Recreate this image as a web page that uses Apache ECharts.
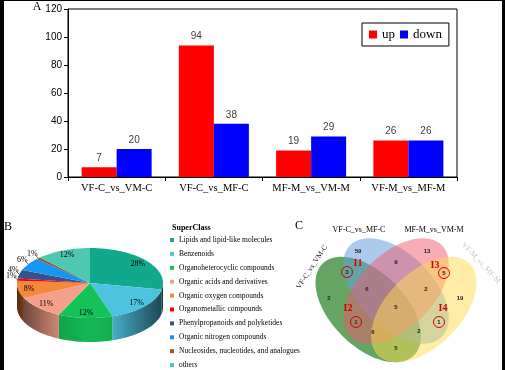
<!DOCTYPE html>
<html><head><meta charset="utf-8">
<script src="https://cdn.jsdelivr.net/npm/echarts@6/dist/echarts.min.js"></script>
<style>html,body{margin:0;padding:0;background:#fff}#c{width:505px;height:370px}</style>
</head><body><div id="c"></div>
<script>
// ---------------- DATA ----------------
const comparisons = ['VF-C_vs_VM-C', 'VF-C_vs_MF-C', 'MF-M_vs_VM-M', 'VF-M_vs_MF-M'];
const upValues = [7, 94, 19, 26];
const downValues = [20, 38, 29, 26];
const yTicks = [0, 20, 40, 60, 80, 100, 120];

const superClasses = [
  'Lipids and lipid-like molecules',
  'Benzenoids',
  'Organoheterocyclic compounds',
  'Organic acids and derivatives',
  'Organic oxygen compounds',
  'Organometallic compounds',
  'Phenylpropanoids and polyketides',
  'Organic nitrogen compounds',
  'Nucleosides, nucleotides, and analogues',
  'others'
];
const superClassPercent = [28, 17, 12, 11, 8, 1, 4, 6, 1, 12];

const vennSets = ['VF-C_vs_VM-C', 'VF-C_vs_MF-C', 'MF-M_vs_VM-M', 'VF-M_vs_MF-M'];
const vennRegions = ['G', 'B', 'P', 'Y', 'GB', 'BP', 'GBP', 'BPY', 'GBPY', 'GP', 'PY', 'BY', 'GPY', 'GBY', 'GY'];
const vennRegionCounts = [2, 59, 13, 19, 3, 9, 6, 2, 5, 1, 5, 1, 6, 2, 5];
const highlightRegions = ['GB', 'GP', 'PY', 'BY'];
const highlightNames = ['I1', 'I2', 'I3', 'I4'];

// ---------------- STYLE / LAYOUT ----------------
const SERIF = '"Liberation Serif", "DejaVu Serif", serif';
const SANS = '"Liberation Sans", Arial, sans-serif';
const superClassColors = ['#12a88c', '#4ec3df', '#14c25a', '#f5a08a', '#f5883a', '#ff0000', '#3b4f8c', '#1597f0', '#8a5c3c', '#4fc8b2'];
const vennColors = ['rgba(40,130,40,0.72)', 'rgba(100,160,220,0.55)', 'rgba(240,90,110,0.5)', 'rgba(255,220,80,0.5)'];

const PIE = {cx: 90, cy: 283, rx: 73, ry: 35, depth: 24};
const VENN = {cx: 396, cy: 291, a: 64.75, b: 37, dx: 27.75, dy: 18.5};
const vennEllipses = [
  {ox: -VENN.dx, oy: VENN.dy, rot: 45},
  {ox: 0, oy: 0, rot: 45},
  {ox: 0, oy: 0, rot: -45},
  {ox: VENN.dx, oy: VENN.dy, rot: -45}
];
const vennLabelOffset = {
  G: [-67, 7], B: [-38, -40], P: [31, -40], Y: [64, 7],
  GB: [-49, -19], BP: [0, -29], GBP: [-29, -2], BPY: [30, -2], GBPY: [0, 16],
  GP: [-40, 31], PY: [48, -18], BY: [43, 31], GPY: [-23, 41], GBY: [23, 40], GY: [0, 57]
};
const highlightTextOffset = [[11, -9], [-8, -14], [-9, -8], [4, -14]];

// ---------------- HELPERS ----------------
const pieTotal = superClassPercent.reduce((a, b) => a + b, 0);
const pieStart = [];
(function () { let acc = 0; superClassPercent.forEach(v => { pieStart.push(acc); acc += v; }); })();

function rimPoint(tDeg, dy, f) {
  const t = tDeg * Math.PI / 180; f = f == null ? 1 : f;
  return [PIE.cx + PIE.rx * f * Math.sin(t), PIE.cy - PIE.ry * f * Math.cos(t) + (dy || 0)];
}
function arcPoints(t0, t1, dy) {
  const n = Math.max(2, Math.ceil((t1 - t0) / 3));
  const pts = [];
  for (let k = 0; k <= n; k++) pts.push(rimPoint(t0 + (t1 - t0) * k / n, dy, 1));
  return pts;
}
function shadeColor(hex, f) {
  const r = parseInt(hex.slice(1, 3), 16), g = parseInt(hex.slice(3, 5), 16), b = parseInt(hex.slice(5, 7), 16);
  return 'rgb(' + Math.round(r * f) + ',' + Math.round(g * f) + ',' + Math.round(b * f) + ')';
}
function sideShade(t) { const s = Math.sin(t * Math.PI / 180); return 0.95 - 0.6 * s * s; }

function makePieRender(i) {
  return function (params, api) {
    const v = api.value(0);
    const t0 = pieStart[i] / pieTotal * 360, t1 = t0 + v / pieTotal * 360;
    const color = superClassColors[i];
    const children = [];
    const fs = Math.max(t0, 90), fe = Math.min(t1, 270);
    if (fe > fs) {
      const top = arcPoints(fs, fe, 0), bot = arcPoints(fs, fe, PIE.depth).reverse();
      const xs = top.map(p => p[0]);
      const minx = Math.min.apply(null, xs), maxx = Math.max.apply(null, xs);
      const stops = [{offset: 0, color: shadeColor(color, sideShade(fe))}, {offset: 1, color: shadeColor(color, sideShade(fs))}];
      if (fs < 180 && fe > 180) stops.splice(1, 0, {offset: (PIE.cx - minx) / (maxx - minx), color: shadeColor(color, 0.95)});
      children.push({type: 'polygon', shape: {points: top.concat(bot)},
        style: {fill: {type: 'linear', x: 0, y: 0, x2: 1, y2: 0, colorStops: stops}}});
    }
    children.push({type: 'polygon', shape: {points: [[PIE.cx, PIE.cy]].concat(arcPoints(t0, t1, 0))}, style: {fill: color}});
    const mid = (t0 + t1) / 2;
    let lp;
    if (v >= 7) {
      lp = rimPoint(mid, 0, 0.85);
    } else {
      const r = rimPoint(mid, 0, 1);
      lp = [r[0] - 6, r[1] - 4];
      children.push({type: 'line', shape: {x1: r[0], y1: r[1], x2: r[0] - 2.5, y2: r[1] - 2.5}, style: {stroke: '#000', lineWidth: 0.6}});
    }
    children.push({type: 'text', x: lp[0], y: lp[1], style: {text: v + '%', font: '8px ' + SERIF, fill: '#000',
      align: 'center', verticalAlign: 'middle'}});
    return {type: 'group', children: children};
  };
}

const pieSeries = superClasses.map((name, i) => ({
  type: 'custom', name: name, coordinateSystem: 'none', z: 2,
  itemStyle: {color: superClassColors[i]},
  data: [[superClassPercent[i]]],
  renderItem: makePieRender(i)
}));

function ellipsePoints(e) {
  const cx = VENN.cx + e.ox, cy = VENN.cy + e.oy, th = e.rot * Math.PI / 180;
  const c = Math.cos(th), s = Math.sin(th), pts = [];
  for (let k = 0; k < 96; k++) {
    const p = k / 96 * Math.PI * 2;
    const u = VENN.a * Math.cos(p), w = VENN.b * Math.sin(p);
    pts.push([cx + u * c - w * s, cy + u * s + w * c]);
  }
  return pts;
}

const vennSeries = {
  type: 'custom', name: 'venn', coordinateSystem: 'none', z: 2,
  data: vennSets.map((n, i) => [i]),
  renderItem: function (params, api) {
    const i = api.value(0);
    return {type: 'polygon', shape: {points: ellipsePoints(vennEllipses[i])}, style: {fill: vennColors[i]}};
  }
};
const vennLabelSeries = {
  type: 'custom', name: 'vennCounts', coordinateSystem: 'none', z: 3,
  data: vennRegionCounts.map((c, i) => [i, c]),
  renderItem: function (params, api) {
    const i = api.value(0), off = vennLabelOffset[vennRegions[i]];
    return {type: 'text', x: VENN.cx + off[0], y: VENN.cy + off[1],
      style: {text: String(api.value(1)), font: 'bold 6px ' + SANS, fill: '#222', align: 'center', verticalAlign: 'middle'}};
  }
};

// decorative graphics
const graphics = [
  {type: 'rect', shape: {x: 0, y: 0, width: 4, height: 370}, style: {fill: '#000'}, z: 10},
  {type: 'rect', shape: {x: 502, y: 0, width: 3, height: 370}, style: {fill: '#000'}, z: 10},
  {type: 'rect', shape: {x: 0, y: 0, width: 505, height: 1}, style: {fill: '#000'}, z: 10},
  {type: 'text', x: 37, y: 7, style: {text: 'A', font: '12px ' + SERIF, fill: '#000', align: 'center', verticalAlign: 'middle'}},
  {type: 'text', x: 8, y: 227, style: {text: 'B', font: '12px ' + SERIF, fill: '#000', align: 'center', verticalAlign: 'middle'}, z: 11},
  {type: 'text', x: 299, y: 226, style: {text: 'C', font: '12px ' + SERIF, fill: '#000', align: 'center', verticalAlign: 'middle'}},
  {type: 'text', x: 172, y: 228, style: {text: 'SuperClass', font: 'bold 8px ' + SERIF, fill: '#000', align: 'left', verticalAlign: 'middle'}},
  {type: 'text', x: 359, y: 230, style: {text: vennSets[1], font: '8px ' + SERIF, fill: '#000', align: 'center', verticalAlign: 'middle'}},
  {type: 'text', x: 434, y: 230, style: {text: vennSets[2], font: '8px ' + SERIF, fill: '#000', align: 'center', verticalAlign: 'middle'}},
  {type: 'text', x: 312, y: 267, rotation: 57 * Math.PI / 180, style: {text: vennSets[0], font: '7.5px ' + SERIF, fill: '#222', align: 'center', verticalAlign: 'middle'}},
  {type: 'text', x: 481, y: 263, rotation: -47 * Math.PI / 180, style: {text: vennSets[3], font: '7.5px ' + SERIF, fill: '#c4c4c4', align: 'center', verticalAlign: 'middle'}}
];
highlightRegions.forEach((r, k) => {
  const off = vennLabelOffset[r];
  const x = VENN.cx + off[0], y = VENN.cy + off[1];
  graphics.push({type: 'circle', shape: {cx: x, cy: y, r: 5.5}, style: {fill: 'none', stroke: '#d40000', lineWidth: 1}, z: 12});
  graphics.push({type: 'text', x: x + highlightTextOffset[k][0], y: y + highlightTextOffset[k][1], z: 12,
    style: {text: highlightNames[k], font: 'bold 10px ' + SERIF, fill: '#d40000', align: 'center', verticalAlign: 'middle'}});
});

const barLabel = {show: true, position: 'top', distance: 4, fontFamily: SANS, fontSize: 10, color: '#404040'};

const option = {
  animation: false,
  backgroundColor: '#fff',
  textStyle: {fontFamily: SANS},
  grid: {left: 68, top: 9, width: 389, height: 168, show: true, borderColor: '#000', borderWidth: 1,
    backgroundColor: 'transparent', containLabel: false, outerBoundsMode: 'none'},
  legend: [{
    data: ['up', 'down'], left: 362, top: 23, orient: 'horizontal', padding: [5, 7, 5, 7],
    borderColor: '#000', borderWidth: 1, borderRadius: 0, itemWidth: 8, itemHeight: 8, itemGap: 5, icon: 'rect',
    textStyle: {fontFamily: SERIF, fontSize: 13, color: '#000'}, selectedMode: false
  }, {
    data: superClasses, left: 170, top: 236, orient: 'vertical', padding: 0,
    itemWidth: 4, itemHeight: 4, itemGap: 5.9, icon: 'rect',
    textStyle: {fontFamily: SERIF, fontSize: 7.5, lineHeight: 8, color: '#000'}, selectedMode: false
  }],
  xAxis: {type: 'category', data: comparisons,
    axisLine: {lineStyle: {color: '#000', width: 1}},
    axisTick: {show: true, length: 4, lineStyle: {color: '#000'}},
    axisLabel: {fontFamily: SERIF, fontSize: 10.5, color: '#000', margin: 6, interval: 0},
    splitLine: {show: false}},
  yAxis: {type: 'value', min: yTicks[0], max: yTicks[yTicks.length - 1], interval: yTicks[1] - yTicks[0],
    axisLine: {show: true, lineStyle: {color: '#000', width: 1}},
    axisTick: {show: true, length: 4, lineStyle: {color: '#000'}},
    axisLabel: {fontFamily: SANS, fontSize: 10, color: '#000', margin: 6},
    splitLine: {show: false}},
  series: [
    {name: 'up', type: 'bar', data: upValues, itemStyle: {color: '#ff0000'}, barGap: '0%', barCategoryGap: '28%', label: barLabel},
    {name: 'down', type: 'bar', data: downValues, itemStyle: {color: '#0000ff'}, barGap: '0%', barCategoryGap: '28%', label: barLabel}
  ].concat(pieSeries, [vennSeries, vennLabelSeries]),
  graphic: graphics
};

const chart = echarts.init(document.getElementById('c'), null, {renderer: 'canvas'});
chart.setOption(option);
</script>
</body></html>
